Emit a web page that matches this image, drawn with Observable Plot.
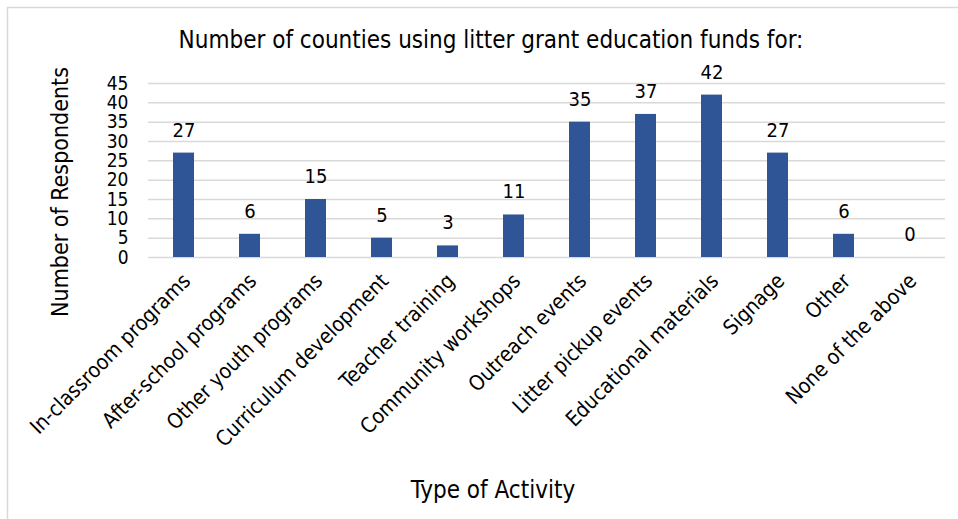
<!DOCTYPE html>
<html>
<head>
<meta charset="utf-8">
<script src="https://cdn.jsdelivr.net/npm/d3@7"></script>
<script src="https://cdn.jsdelivr.net/npm/@observablehq/plot@0.6"></script>
<style>
  html, body { margin: 0; padding: 0; background: #fff; }
  #chart svg { display: block; }
</style>
</head>
<body>
<div id="chart"></div>
<script>
const categories = [
  "In-classroom programs", "After-school programs", "Other youth programs",
  "Curriculum development", "Teacher training", "Community workshops",
  "Outreach events", "Litter pickup events", "Educational materials",
  "Signage", "Other", "None of the above"
];
const counts = [27, 6, 15, 5, 3, 11, 35, 37, 42, 27, 6, 0];
const yTicks = [0, 5, 10, 15, 20, 25, 30, 35, 40, 45];
const titleText = "Number of counties using litter grant education funds for:";
const yLabel = "Number of Respondents";
const xLabel = "Type of Activity";

const data = categories.map((c, i) => ({category: c, count: counts[i]}));
const FONT = "'DejaVu Sans Condensed', 'DejaVu Sans', sans-serif";

const plot = Plot.plot({
  width: 958,
  height: 519,
  marginLeft: 148,
  marginRight: 13,
  marginTop: 83,
  marginBottom: 262,
  style: {fontFamily: FONT, background: "#fff", color: "#000"},
  x: {domain: categories, paddingInner: 0.684, paddingOuter: 0.342, axis: null},
  y: {domain: [0, 45], ticks: yTicks, label: null},
  marks: [
    Plot.gridY(yTicks, {stroke: "#d9d9d9", strokeOpacity: 1, strokeWidth: 1.5}),
    Plot.axisY(yTicks, {tickSize: 0, tickPadding: 20, fontSize: 19, label: null, fill: "#000"}),
    Plot.barY(data, {x: "category", y: "count", fill: "#2f5597"}),
    Plot.text(data, {x: "category", y: "count", text: d => String(d.count), dy: -23, fontSize: 20, fill: "#000", lineAnchor: "middle"}),
    Plot.text(categories, {x: d => d, frameAnchor: "bottom", rotate: -45, textAnchor: "end", lineAnchor: "middle", dx: 3, dy: 20, fontSize: 21, fill: "#000"})
  ]
});

const svg = d3.select(plot);
svg.insert("rect", ":first-child")
  .attr("x", 7.5).attr("y", 7.5).attr("width", 970).attr("height", 540)
  .attr("fill", "#fff").attr("stroke", "#d9d9d9").attr("stroke-width", 1.5);
svg.append("text").text(titleText)
  .attr("x", 491).attr("y", 40).attr("text-anchor", "middle").attr("dominant-baseline", "central")
  .attr("font-size", 24).attr("fill", "#000").attr("font-family", FONT);
svg.append("text").text(yLabel)
  .attr("transform", "translate(60,192) rotate(-90)").attr("text-anchor", "middle").attr("dominant-baseline", "central")
  .attr("font-size", 23).attr("fill", "#000").attr("font-family", FONT);
svg.append("text").text(xLabel)
  .attr("x", 493).attr("y", 490).attr("text-anchor", "middle").attr("dominant-baseline", "central")
  .attr("font-size", 24).attr("fill", "#000").attr("font-family", FONT);

document.getElementById("chart").appendChild(plot);
</script>
</body>
</html>
